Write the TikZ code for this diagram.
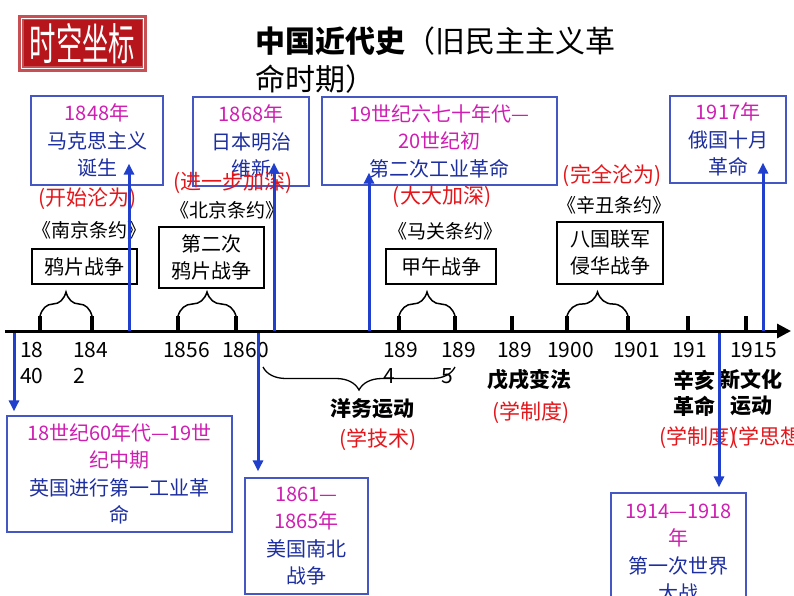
\documentclass[tikz,border=0pt]{standalone}
\usepackage{fontspec}
\setmainfont{Noto Sans CJK SC}
\usetikzlibrary{arrows.meta,decorations.pathreplacing}
\definecolor{stampred}{HTML}{B5151B}
\definecolor{evblue}{HTML}{1D2FA0}
\definecolor{yrmag}{HTML}{CF1FB2}
\definecolor{notered}{HTML}{E3161B}
\definecolor{boxblue}{HTML}{4557C2}
\definecolor{arrblue}{HTML}{1F3FCC}
\newcommand{\yrtxt}[1]{\textcolor{yrmag}{#1}}
\newcommand{\evtxt}[1]{\textcolor{evblue}{#1}}

\begin{document}
\begin{tikzpicture}[
      x=1pt,y=-1pt,
      evbox/.style={rectangle,draw=boxblue,line width=1.2pt,align=center,inner sep=0pt,font=\fontsize{20}{27.5}\selectfont},
      warbox/.style={rectangle,draw=black,line width=1.1pt,align=center,inner sep=0pt,font=\fontsize{20}{27}\selectfont},
      treaty/.style={inner sep=0pt,font=\fontsize{19}{24}\selectfont},
      note/.style={inner sep=0pt,text=notered,font=\fontsize{21}{24}\selectfont},
      movement/.style={inner sep=0pt,align=center,font=\fontsize{21}{26}\selectfont\bfseries},
      yearlbl/.style={anchor=north west,align=left,inner sep=0pt,font=\fontsize{21}{26}\selectfont},
      tickmark/.style={line width=3.5pt},
      upbrace/.style={decorate,decoration={brace,amplitude=24pt},line width=1.5pt},
      arrowline/.style={-{Triangle[length=11pt,width=10pt]},line width=3pt,draw=arrblue,fill=arrblue}
    ]
    \useasboundingbox (0,0) rectangle (794,596);
    \fill[stampred!75] (18,15) rectangle (147,72);
    \draw[white,line width=1.2pt] (21.5,18.5) rectangle (143.5,68.5);
    \node[fill=stampred,minimum width=118pt,minimum height=46pt,inner sep=0pt,text=white,font=\fontsize{44}{44}\selectfont] (stamp) at (82.5,43.5) {\scalebox{0.6}[1]{时空坐标}};
    \node[anchor=north west,align=left,inner sep=0pt,font=\fontsize{30}{38}\selectfont] (title) at (255,27) {\textbf{中国近代史}（旧民主主义革\\命时期）};

    \node[evbox,minimum width=132pt,minimum height=89pt] (mks) at (97,140.5) {\yrtxt{1848年}\\\evtxt{马克思主义}\\\evtxt{诞生}};
    \node[evbox,minimum width=116pt,minimum height=89pt] (meiji) at (251,141.5) {\yrtxt{1868年}\\\evtxt{日本明治}\\\evtxt{维新}};
    \node[evbox,minimum width=235pt,minimum height=88pt] (ind2) at (439.5,141) {\yrtxt{19世纪六七十年代—}\\\yrtxt{20世纪初}\\\evtxt{第二次工业革命}};
    \node[evbox,minimum width=116pt,minimum height=87pt] (oct) at (728,139.5) {\yrtxt{1917年}\\\evtxt{俄国十月}\\\evtxt{革命}};

    \node[note] (n1840) at (87.5,199) {(开始沦为)};
    \node[note] (n1856) at (233,183) {(进一步加深)};
    \node[note] (n1894) at (442,197) {(大大加深)};
    \node[note] (n1900) at (612,176) {(完全沦为)};

    \node[treaty] (nanjing) at (89,230) {《南京条约》};
    \node[treaty] (beijing) at (227,210) {《北京条约》};
    \node[treaty] (maguan) at (445,231) {《马关条约》};
    \node[treaty] (xinchou) at (614,205) {《辛丑条约》};

    \node[warbox,minimum width=105pt,minimum height=35pt] (opium) at (84.5,266.5) {鸦片战争};
    \node[warbox,minimum width=105pt,minimum height=61pt] (opium2) at (211.5,257.5) {第二次\\鸦片战争};
    \node[warbox,minimum width=110pt,minimum height=35pt] (jiawu) at (441,266.5) {甲午战争};
    \node[warbox,minimum width=106pt,minimum height=62pt] (baguo) at (610,253) {八国联军\\侵华战争};

    \coordinate (axL) at (5,331);
    \coordinate (axR) at (791,331);
    \draw[line width=3pt,-{Triangle[length=14pt,width=14pt]}] (axL) -- (axR);
    \foreach \x/\yr in {40/1840,92/1842,178/1856,236/1860,399/1894,455/1895,512/1898,567/1900,628/1901,688/1911,746/1915} {
      \coordinate (t\yr) at (\x,331);
      \draw[tickmark] (t\yr) -- ++(0,-15);
    }
    \draw[upbrace] ([yshift=15pt]t1840) -- ([yshift=15pt]t1842);
    \draw[upbrace] ([yshift=15pt]t1856) -- ([yshift=15pt]t1860);
    \draw[upbrace] ([yshift=15pt]t1894) -- ([yshift=15pt]t1895);
    \draw[upbrace] ([yshift=15pt]t1900) -- ([yshift=15pt]t1901);

    \foreach \x/\txt [count=\i] in {20/{18\\40},73/{184\\2},163/1856,222/1860,383/{189\\4},441/{189\\5},497/189,547/1900,613/1901,672/191,730/1915}
      \node[yearlbl] (yl\i) at (\x,342) {\txt};

    \coordinate (ywL) at (263,367);
    \coordinate (ywR) at (455,367);
    \draw[decorate,decoration={brace,amplitude=23pt,mirror},line width=1.3pt] (ywL) -- (ywR);
    \node[movement] (yangwu) at (372,409) {洋务运动};
    \node[note] (nyw) at (378,440) {(学技术)};
    \node[movement] (wuxu) at (529,380) {戊戌变法};
    \node[note] (nwx) at (531,413) {(学制度)};
    \node[movement] (xinhai) at (694,393) {辛亥\\革命};
    \node[movement] (xinwh) at (751,393) {新文化\\运动};
    \node[note] (nxh) at (698,438) {(学制度)};
    \node[note,anchor=west] (nxw) at (731,438) {(学思想)};

    \node[evbox,minimum width=225pt,minimum height=116pt] (brit) at (119.5,474) {\yrtxt{18世纪60年代—19世}\\\yrtxt{纪中期}\\\evtxt{英国进行第一工业革}\\\evtxt{命}};
    \node[evbox,minimum width=123pt,minimum height=116pt] (usa) at (306.5,536) {\yrtxt{1861—}\\\yrtxt{1865年}\\\evtxt{美国南北}\\\evtxt{战争}};
    \node[evbox,minimum width=135pt,minimum height=120pt] (ww1) at (678.5,553) {\yrtxt{1914—1918}\\\yrtxt{年}\\\evtxt{第一次世界}\\\evtxt{大战}};

    \coordinate (a1848) at (129,331);
    \coordinate (a1868) at (274,331);
    \coordinate (a1870) at (369,331);
    \coordinate (a1917) at (763,331);
    \coordinate (d1760) at (14,333);
    \coordinate (d1861) at (258,333);
    \coordinate (d1914) at (719,333);
    \draw[arrowline] (a1848) -- ([yshift=22pt]a1848 |- mks.south);
    \draw[arrowline] (a1868) -- ([yshift=24pt]a1868 |- meiji.south);
    \draw[arrowline] (a1870) -- ([yshift=13pt]a1870 |- ind2.south);
    \draw[arrowline] (a1917) -- ([yshift=21pt]a1917 |- oct.south);
    \draw[arrowline] (d1760) -- ([yshift=4pt]d1760 |- brit.north);
    \draw[arrowline] (d1861) -- ([yshift=6pt]d1861 |- usa.north);
    \draw[arrowline] (d1914) -- ([yshift=5pt]d1914 |- ww1.north);
  \end{tikzpicture}
\end{document}
